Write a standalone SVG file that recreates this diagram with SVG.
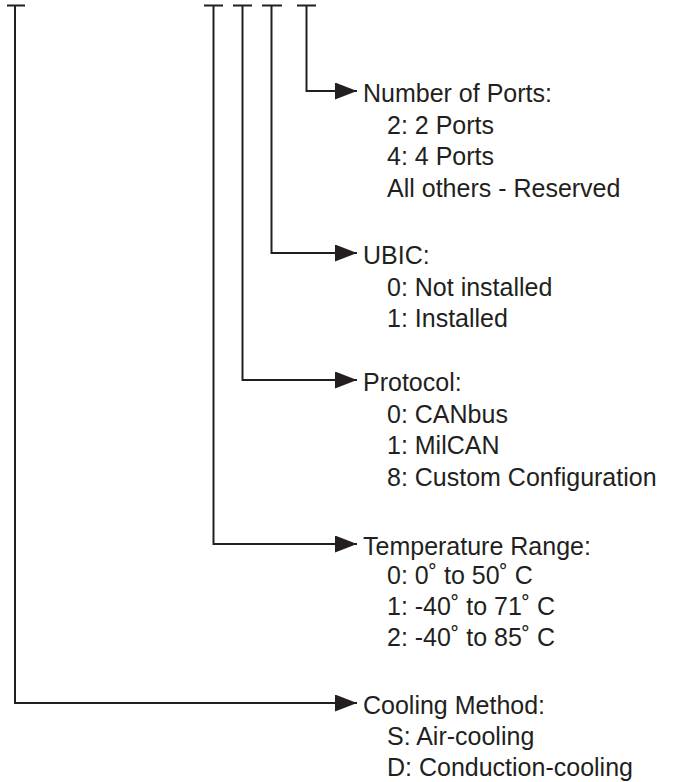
<svg xmlns="http://www.w3.org/2000/svg" width="673" height="782" viewBox="0 0 673 782">
<style>
.ln{fill:none;stroke:#231f20;stroke-width:2;}
.t{font-family:"Liberation Sans",Arial,sans-serif;font-size:25px;fill:#231f20;}
</style>
<defs>
<marker id="ah" markerUnits="userSpaceOnUse" markerWidth="24" markerHeight="18" refX="22" refY="8.5" orient="auto">
<path d="M0,0 L22,8.5 L0,17 Z" fill="#231f20"/>
</marker>
</defs>
<rect width="673" height="782" fill="#ffffff"/>
<g id="connectors">
<path class="ln" d="M7,5.5 H25 M15,5.5 V703 H357" marker-end="url(#ah)"/>
<path class="ln" d="M204,5.5 H223 M213.5,5.5 V544 H357" marker-end="url(#ah)"/>
<path class="ln" d="M233,5.5 H252 M242.5,5.5 V380 H357" marker-end="url(#ah)"/>
<path class="ln" d="M262,5.5 H282 M271.5,5.5 V253 H357" marker-end="url(#ah)"/>
<path class="ln" d="M297,5.5 H316 M306.5,5.5 V91 H357" marker-end="url(#ah)"/>
</g>
<g id="ports">
<text class="t" x="363" y="102">Number of Ports:</text>
<text class="t" x="387" y="133.5">2: 2 Ports</text>
<text class="t" x="387" y="165">4: 4 Ports</text>
<text class="t" x="387" y="196.5">All others - Reserved</text>
</g>
<g id="ubic">
<text class="t" x="363" y="264">UBIC:</text>
<text class="t" x="387" y="295.5">0: Not installed</text>
<text class="t" x="387" y="327">1: Installed</text>
</g>
<g id="protocol">
<text class="t" x="363" y="391">Protocol:</text>
<text class="t" x="387" y="422.5">0: CANbus</text>
<text class="t" x="387" y="454">1: MilCAN</text>
<text class="t" x="387" y="485.5">8: Custom Configuration</text>
</g>
<g id="temperature">
<text class="t" x="363" y="555">Temperature Range:</text>
<text class="t" x="387" y="583.5">0: 0˚ to 50˚ C</text>
<text class="t" x="387" y="614.5">1: -40˚ to 71˚ C</text>
<text class="t" x="387" y="645.5">2: -40˚ to 85˚ C</text>
</g>
<g id="cooling">
<text class="t" x="363" y="714">Cooling Method:</text>
<text class="t" x="387" y="745">S: Air-cooling</text>
<text class="t" x="387" y="776">D: Conduction-cooling</text>
</g>
</svg>
